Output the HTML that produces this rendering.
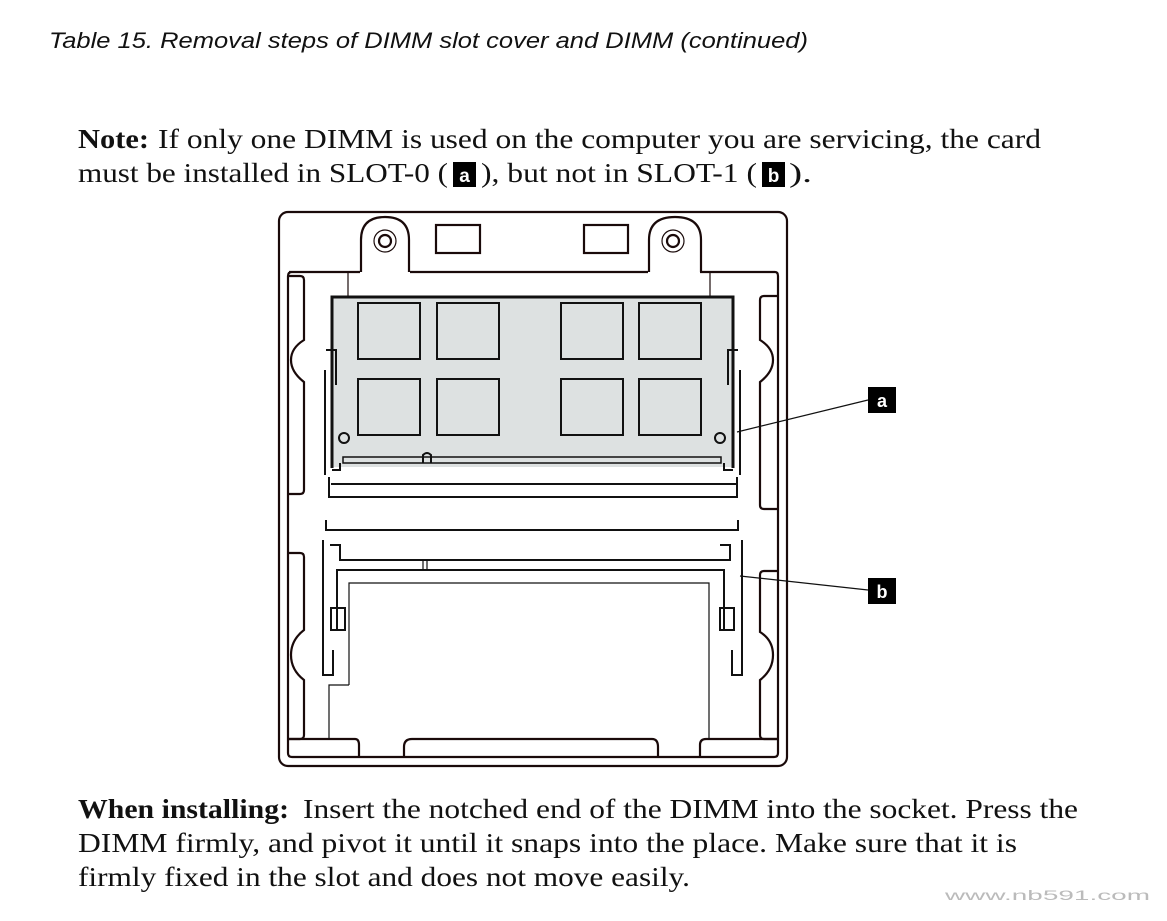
<!DOCTYPE html>
<html><head><meta charset="utf-8"><style>
html,body{margin:0;padding:0;background:#fff;}
svg{display:block;}
.s{font-family:"Liberation Serif",serif;font-size:27px;fill:#111;}
.b{font-weight:bold;}
</style></head><body>
<svg width="1167" height="921" viewBox="0 0 1167 921" xmlns="http://www.w3.org/2000/svg">
<text x="49" y="48" font-family="Liberation Sans,sans-serif" font-style="italic" font-size="22" fill="#111" textLength="759" lengthAdjust="spacingAndGlyphs">Table 15. Removal steps of DIMM slot cover and DIMM  (continued)</text>

<text class="s b" x="78" y="148" textLength="71" lengthAdjust="spacingAndGlyphs">Note:</text>
<text class="s" x="158" y="148" textLength="883" lengthAdjust="spacingAndGlyphs">If only one DIMM is used on the computer you are servicing, the card</text>
<text class="s" x="78" y="182" textLength="370" lengthAdjust="spacingAndGlyphs">must be installed in SLOT-0 (</text>
<rect x="453" y="162" width="23" height="25" fill="#000"/>
<text x="464.5" y="182" text-anchor="middle" font-family="Liberation Sans,sans-serif" font-weight="bold" font-size="19" fill="#fff">a</text>
<text class="s" x="481" y="182" textLength="276" lengthAdjust="spacingAndGlyphs">), but not in SLOT-1 (</text>
<rect x="762" y="162" width="23" height="25" fill="#000"/>
<text x="773.5" y="182" text-anchor="middle" font-family="Liberation Sans,sans-serif" font-weight="bold" font-size="19" fill="#fff">b</text>
<text class="s" x="789" y="182" textLength="23" lengthAdjust="spacingAndGlyphs">).</text>

<g fill="none" stroke="#1a0a0a" stroke-width="2.2">
<!-- outer frame -->
<rect x="279" y="212" width="508" height="554" rx="9"/>
<!-- inner frame -->
<path d="M289 272 L360 272 M410 272 L648 272 M700 272 L775 272 Q778 272 778 276 L778 753 Q778 757 774 757 L292 757 Q288 757 288 753 L288 276 Q288 272 292 272"/>
<!-- tabs -->
<path d="M361 272 L361 240 Q361 217 385 217 Q409 217 409 240 L409 272"/>
<path d="M649 272 L649 240 Q649 217 675 217 Q701 217 701 240 L701 272"/>
<circle cx="385" cy="241" r="11" stroke-width="1.2"/><circle cx="385" cy="241" r="6"/>
<circle cx="673" cy="241" r="11" stroke-width="1.2"/><circle cx="673" cy="241" r="6"/>
<rect x="436" y="225" width="44" height="28"/>
<rect x="584" y="225" width="44" height="28"/>
<!-- side rails left -->
<path d="M288 276 L300 276 Q304 276 304 280 L304 340 Q291 348 291 360 Q291 372 304 382 L304 490 Q304 494 300 494 L288 494"/>
<path d="M288 553 L300 553 Q304 553 304 557 L304 630 Q291 640 291 655 Q291 670 304 680 L304 735 Q304 739 300 739 L288 739"/>
<path d="M778 296 L764 296 Q760 296 760 300 L760 340 Q773 348 773 360 Q773 372 760 382 L760 505 Q760 509 764 509 L778 509"/>
<path d="M778 571 L764 571 Q760 571 760 575 L760 632 Q773 640 773 655 Q773 670 760 680 L760 735 Q760 739 764 739 L778 739"/>
<!-- bottom tabs -->
<path d="M288 739 L355 739 Q359 739 359 745 L359 757"/>
<path d="M404 757 L404 747 Q404 739 412 739 L652 739 Q658 739 658 747 L658 757"/>
<path d="M700 757 L700 745 Q700 739 706 739 L778 739"/>
<!-- socket vertical lines top -->
<path d="M348 272 L348 296 M710 272 L710 296" stroke-width="1.2"/>
</g>
<!-- DIMM -->
<rect x="332" y="297" width="401" height="170" fill="#dde1e1"/>
<g fill="none" stroke="#111" stroke-width="2">
<path d="M332 468 L332 297 L733 297 L733 468" stroke-width="3"/>
<rect x="358" y="303" width="62" height="56"/><rect x="437" y="303" width="62" height="56"/>
<rect x="561" y="303" width="62" height="56"/><rect x="639" y="303" width="62" height="56"/>
<rect x="358" y="379" width="62" height="56"/><rect x="437" y="379" width="62" height="56"/>
<rect x="561" y="379" width="62" height="56"/><rect x="639" y="379" width="62" height="56"/>
<circle cx="344" cy="438" r="5"/><circle cx="720" cy="438" r="5"/>
<rect x="343" y="457" width="378" height="6" stroke-width="1.5"/>
<path d="M423 463 L423 455 Q427 451 431 455 L431 463"/>
<path d="M332 470 L340 470 L340 463 M733 470 L724 470 L724 463"/>
<path d="M325 370 L325 475 M740 370 L740 475 M326 350 L336 350 L336 385 M738 350 L728 350 L728 385"/>
<path d="M329 477 L329 497 L737 497 L737 477 M331 484 L736 484"/>
<!-- slot b -->
<path d="M326 520 L326 530 L738 530 L738 520"/>
<path d="M323 540 L323 675 L333 675 L333 650 M742 540 L742 675 L732 675 L732 650"/>
<path d="M330 545 L340 545 L340 560 L730 560 L730 545 L720 545"/>
<path d="M337 630 L337 570 L724 570 L724 630"/>
<path d="M331 608 L345 608 L345 630 L331 630 Z M720 608 L734 608 L734 630 L720 630 Z"/>
<path d="M423 560 L423 570 M427 560 L427 570" stroke-width="1.2"/>
<path d="M349 685 L349 583 L709 583 L709 739 M349 685 L329 685 L329 739" stroke-width="1.2"/>
</g>
<!-- callouts -->
<line x1="737" y1="432" x2="868" y2="400" stroke="#111" stroke-width="1.2"/>
<line x1="740" y1="576" x2="868" y2="590" stroke="#111" stroke-width="1.2"/>
<rect x="868" y="387" width="28" height="26" fill="#000"/>
<text x="882" y="407" text-anchor="middle" font-family="Liberation Sans,sans-serif" font-weight="bold" font-size="18" fill="#fff">a</text>
<rect x="868" y="578" width="28" height="26" fill="#000"/>
<text x="882" y="598" text-anchor="middle" font-family="Liberation Sans,sans-serif" font-weight="bold" font-size="18" fill="#fff">b</text>

<text class="s b" x="78" y="818" textLength="211" lengthAdjust="spacingAndGlyphs">When installing:</text>
<text class="s" x="303" y="818" textLength="775" lengthAdjust="spacingAndGlyphs">Insert the notched end of the DIMM into the socket. Press the</text>
<text class="s" x="78" y="852" textLength="939" lengthAdjust="spacingAndGlyphs">DIMM firmly, and pivot it until it snaps into the place. Make sure that it is</text>
<text class="s" x="78" y="886" textLength="612" lengthAdjust="spacingAndGlyphs">firmly fixed in the slot and does not move easily.</text>
<text x="945" y="900" font-family="Liberation Sans,sans-serif" font-size="14" fill="#bbb" textLength="205" lengthAdjust="spacingAndGlyphs">www.nb591.com</text>
</svg>
</body></html>
